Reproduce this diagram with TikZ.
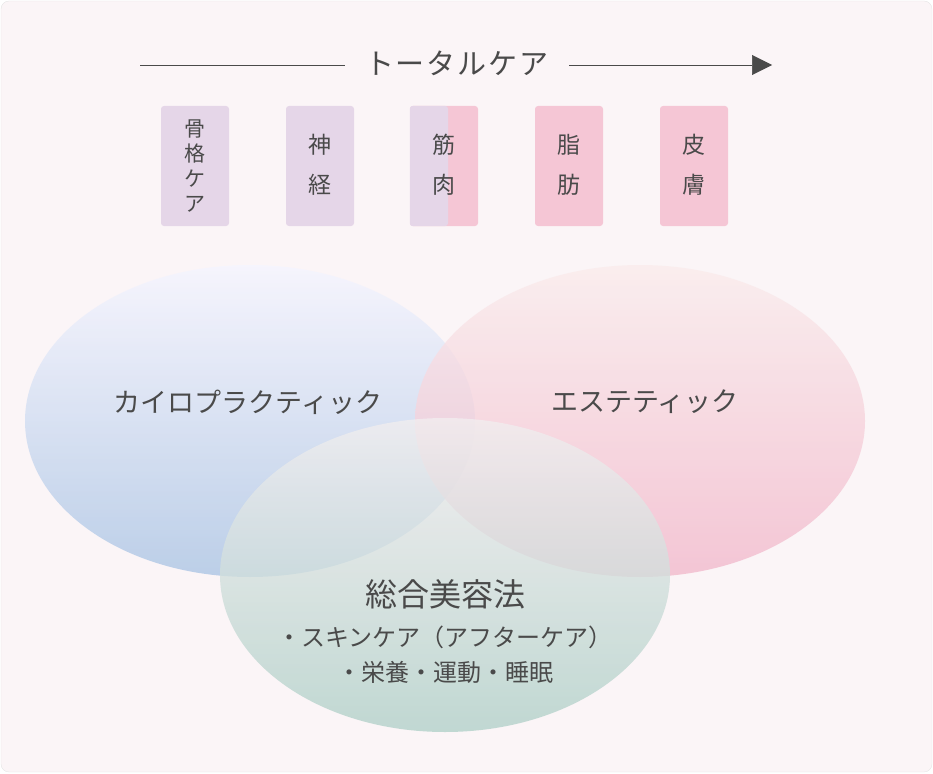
\documentclass[tikz,border=0pt]{standalone}
\usepackage{fontspec}
\setmainfont{Noto Sans CJK JP}
\usetikzlibrary{arrows.meta,positioning}
\definecolor{bgpink}{HTML}{FBF5F7}
\definecolor{txtgray}{HTML}{4A4A4A}
\definecolor{boxpurple}{HTML}{E5D6E8}
\definecolor{boxpink}{HTML}{F5C6D5}
\tikzset{
  care/.style={minimum width=68pt,minimum height=120pt,rounded corners=3pt,inner sep=0pt},
  vtext/.style={align=center,text=txtgray,font=\fontsize{23}{40}\selectfont},
  field/.style={fill opacity=0.78,draw=none},
  label/.style={text=txtgray,font=\fontsize{27}{30}\selectfont}
}
\begin{document}
\begin{tikzpicture}[x=1pt,y=-1pt]
  \useasboundingbox (0,0) rectangle (933,773);
  \fill[bgpink,draw=black!10,rounded corners=8pt] (1,1) rectangle (932,772);
  % total care arrow
  \node[label,font=\fontsize{29}{32}\selectfont,inner xsep=20pt] (total) at (457,63) {ト\kern2pt ー\kern2pt タ\kern2pt ル\kern2pt ケ\kern2pt ア};
  \coordinate (ls) at (140,65);
  \coordinate (le) at (772,65);
  \draw[txtgray,line width=0.6pt] (ls) -- (total.west |- ls);
  \draw[txtgray,line width=0.6pt,-{Triangle[length=20pt,width=20pt]}] (total.east |- le) -- (le);
  % care boxes
  \node[care,fill=boxpurple] (bone) at (195,166) {};
  \node[care,fill=boxpurple] (nerve) at (320,166) {};
  \node[care,fill=boxpink] (muscle) at (444,166) {};
  \fill[boxpurple,rounded corners=3pt] (muscle.north west) rectangle ([xshift=4pt]muscle.south);
  \fill[boxpurple] ([xshift=-4pt]muscle.north) rectangle (muscle.south);
  \node[care,fill=boxpink] (fat) at (569,166) {};
  \node[care,fill=boxpink] (skin) at (694,166) {};
  \node[vtext,font=\fontsize{21}{25}\selectfont,below=10pt of bone.north] {骨\\格\\ケ\\ア};
  \node[vtext,below=25pt of nerve.north] {神\\経};
  \node[vtext,below=25pt of muscle.north] {筋\\肉};
  \node[vtext,below=25pt of fat.north] {脂\\肪};
  \node[vtext,below=25pt of skin.north] {皮\\膚};
  % venn fields
  \shade[field,top color=blue!4,bottom color={rgb,255:red,170;green,196;blue,228}]
    (250,421) ellipse [x radius=225,y radius=156];
  \shade[field,top color={rgb,255:red,250;green,236;blue,236},bottom color={rgb,255:red,242;green,184;blue,203}]
    (640,421) ellipse [x radius=225,y radius=156];
  \shade[field,top color={rgb,255:red,242;green,238;blue,240},bottom color={rgb,255:red,176;green,208;blue,200}]
    (445,575) ellipse [x radius=225,y radius=157];
  \node[label] (chiro) at (248,402) {カイロプラクティック};
  \node[label] (esthe) at (645,402) {エステティック};
  \node[label,font=\fontsize{32}{36}\selectfont] (method) at (445,594) {総合美容法};
  \node[label,font=\fontsize{24}{28}\selectfont] (skincare) at (445,637) {・スキンケア（アフターケア）};
  \node[label,font=\fontsize{24}{28}\selectfont] (life) at (445,672) {・栄養・運動・睡眠};
\end{tikzpicture}
\end{document}
